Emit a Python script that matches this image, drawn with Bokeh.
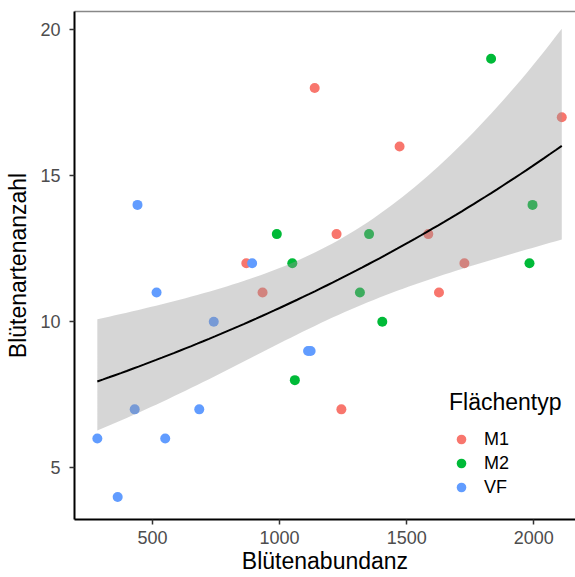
import numpy as np
from bokeh.plotting import figure
from bokeh.models import (ColumnDataSource, FixedTicker, Legend, LegendItem,
                          LinearAxis, Range1d)
from bokeh.embed import file_html
from bokeh.resources import INLINE

# ---------------- data ----------------
groups = ["M1", "M2", "VF"]
colors = ["#F8766D", "#00BA38", "#619CFF"]

m1_x = [869, 933, 1138, 1472, 2110, 1224, 1585, 1727, 1627, 1243]
m1_y = [12, 11, 18, 16, 17, 13, 13, 12, 11, 7]
m2_x = [989, 1050, 1832, 1352, 1995, 1983, 1316, 1404, 1060]
m2_y = [13, 12, 19, 13, 14, 12, 11, 10, 8]
vf_x = [441, 892, 516, 741, 430, 684, 283, 550, 363, 1112, 1122]
vf_y = [14, 12, 11, 10, 7, 7, 6, 6, 4, 9, 9]

x_ticks = [500, 1000, 1500, 2000]
y_ticks = [5, 10, 15, 20]

xs_by_group = [m1_x, m2_x, vf_x]
ys_by_group = [m1_y, m2_y, vf_y]

# ---------------- Poisson GLM (log link), as geom_smooth(method="glm") ----------------
x_all = np.array(m1_x + m2_x + vf_x, dtype=float)
y_all = np.array(m1_y + m2_y + vf_y, dtype=float)
X = np.column_stack([np.ones_like(x_all), x_all])
beta = np.array([np.log(y_all.mean()), 0.0])
for _ in range(50):
    eta = X @ beta
    mu = np.exp(eta)
    z = eta + (y_all - mu) / mu
    XtW = X.T * mu
    beta_new = np.linalg.solve(XtW @ X, XtW @ z)
    if np.max(np.abs(beta_new - beta)) < 1e-12:
        beta = beta_new
        break
    beta = beta_new
mu = np.exp(X @ beta)
cov = np.linalg.inv((X.T * mu) @ X)
grid = np.linspace(x_all.min(), x_all.max(), 80)
G = np.column_stack([np.ones_like(grid), grid])
eta_g = G @ beta
se_g = np.sqrt(np.einsum("ij,jk,ik->i", G, cov, G))
tcrit = 2.048407  # qt(0.975, df = n - 2 = 28)
fit_src = ColumnDataSource(dict(
    x=grid, fit=np.exp(eta_g),
    lo=np.exp(eta_g - tcrit * se_g), hi=np.exp(eta_g + tcrit * se_g)))

# ---------------- figure ----------------
FONT = "Liberation Sans"
p = figure(width=575, height=577, output_backend="svg", toolbar_location=None,
           x_range=Range1d(193.2, 2164), y_range=Range1d(3.23, 20.62),
           min_border_left=74, min_border_right=0, min_border_top=11,
           min_border_bottom=58)
p.outline_line_color = None
p.grid.visible = False
p.background_fill_color = "white"

renderers = []
for g, c, xs, ys in zip(groups, colors, xs_by_group, ys_by_group):
    r = p.scatter(xs, ys, size=10, fill_color=c, line_color=None)
    renderers.append(r)

p.varea(x="x", y1="lo", y2="hi", source=fit_src, fill_color="#999999", fill_alpha=0.4)
p.line(x="x", y="fit", source=fit_src, line_color="black", line_width=2)

for ax in (p.xaxis[0], p.yaxis[0]):
    ax.axis_line_color = "black"
    ax.axis_line_width = 2
    ax.major_tick_line_color = "#333333"
    ax.major_tick_line_width = 1.5
    ax.major_tick_out = 5
    ax.major_tick_in = 0
    ax.minor_tick_line_color = None
    ax.major_label_text_font = FONT
    ax.major_label_text_font_size = "18px"
    ax.major_label_text_color = "#4D4D4D"
    ax.axis_label_text_font = FONT
    ax.axis_label_text_font_size = "23px"
    ax.axis_label_text_font_style = "normal"
    ax.axis_label_text_color = "black"

p.xaxis[0].ticker = FixedTicker(ticks=x_ticks)
p.yaxis[0].ticker = FixedTicker(ticks=y_ticks)
p.xaxis[0].axis_label = "Blütenabundanz"
p.yaxis[0].axis_label = "Blütenartenanzahl"
p.xaxis[0].major_label_standoff = 6
p.xaxis[0].axis_label_standoff = 1
p.yaxis[0].major_label_standoff = 9
p.yaxis[0].axis_label_standoff = 6

top_axis = LinearAxis(ticker=FixedTicker(ticks=[]), axis_line_color="#888888",
                      axis_line_width=1.5, major_tick_line_color=None,
                      minor_tick_line_color=None, major_label_text_font_size="0px")
p.add_layout(top_axis, "above")

legend = Legend(
    items=[LegendItem(label=g, renderers=[r]) for g, r in zip(groups, renderers)],
    title="Flächentyp", location=(375, 20),
    title_text_font=FONT, title_text_font_size="23px", title_text_font_style="normal",
    title_text_color="black", title_standoff=11,
    label_text_font=FONT, label_text_font_size="18px", label_text_color="black",
    glyph_width=24, glyph_height=24, label_height=24, label_standoff=11,
    spacing=0, padding=10, margin=0,
    border_line_color=None, background_fill_alpha=0)
p.add_layout(legend, "center")

open("out.html", "w").write(file_html(p, INLINE))
